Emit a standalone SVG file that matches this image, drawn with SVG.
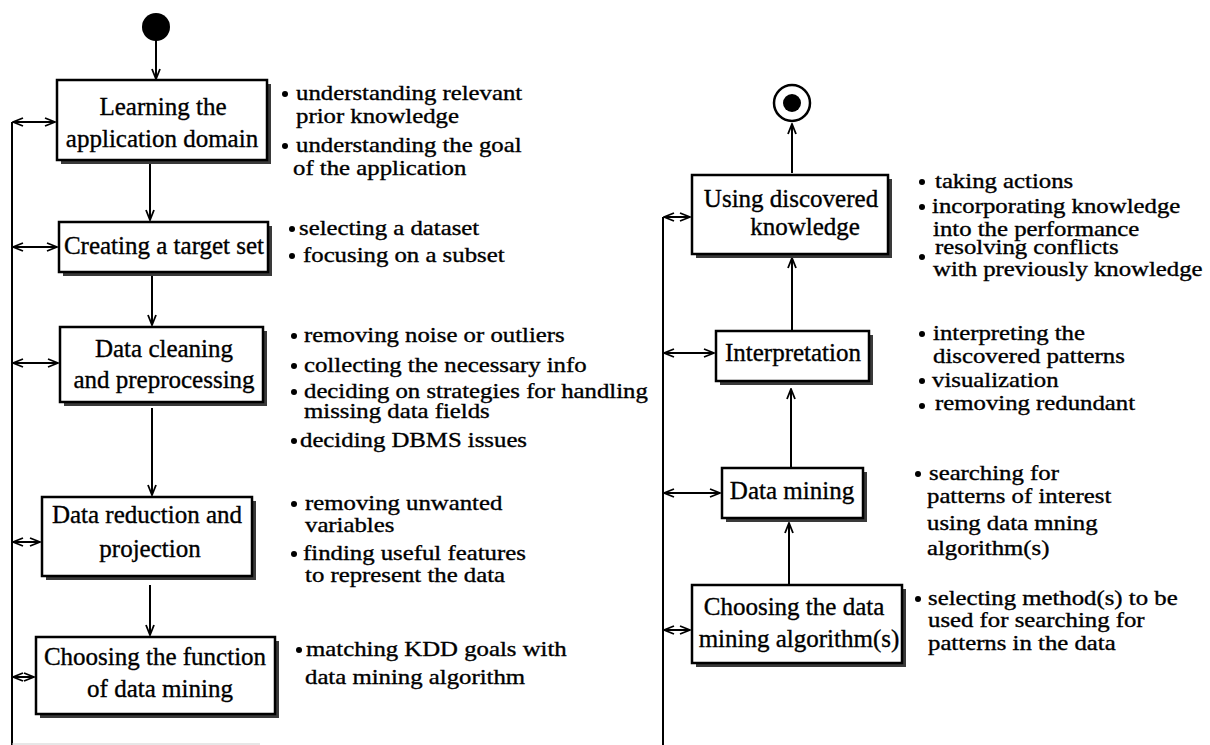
<svg xmlns="http://www.w3.org/2000/svg" width="1210" height="745" viewBox="0 0 1210 745">
<defs>
<style>
.box{fill:#fff;stroke:#000;stroke-width:2.5}
.sh{fill:#3a3a3a}
.t{font-family:'Liberation Serif','Times New Roman',serif;font-size:25px;fill:#000;stroke:#000;stroke-width:0.35}
.n{font-size:21px}
.c{text-anchor:middle}
.ln{stroke:#000;stroke-width:2;fill:none}
.b{fill:#000}
</style>
<marker id="ah" viewBox="0 0 12 10" refX="11" refY="5" markerWidth="12" markerHeight="10" markerUnits="userSpaceOnUse" orient="auto-start-reverse">
<path d="M1,1 L11,5 L1,9" fill="none" stroke="#000" stroke-width="1.8"/>
</marker>
</defs>
<rect width="1210" height="745" fill="#fff"/>

<g id="connectors">
<line class="ln" x1="156" y1="40" x2="156" y2="79" marker-end="url(#ah)"/>
<line class="ln" x1="150" y1="162" x2="150" y2="220" marker-end="url(#ah)"/>
<line class="ln" x1="152" y1="274" x2="152" y2="325" marker-end="url(#ah)"/>
<line class="ln" x1="152" y1="408" x2="152" y2="495" marker-end="url(#ah)"/>
<line class="ln" x1="150" y1="585" x2="150" y2="635" marker-end="url(#ah)"/>
<line class="ln" x1="12" y1="122" x2="12" y2="745"/>
<line class="ln" x1="13" y1="122" x2="55" y2="122" marker-start="url(#ah)" marker-end="url(#ah)"/>
<line class="ln" x1="13" y1="247" x2="57" y2="247" marker-start="url(#ah)" marker-end="url(#ah)"/>
<line class="ln" x1="13" y1="363" x2="58" y2="363" marker-start="url(#ah)" marker-end="url(#ah)"/>
<line class="ln" x1="13" y1="542" x2="40" y2="542" marker-start="url(#ah)" marker-end="url(#ah)"/>
<line class="ln" x1="13" y1="677" x2="34" y2="677" marker-start="url(#ah)" marker-end="url(#ah)"/>
<line x1="12" y1="744" x2="260" y2="744" stroke="#cfcfcf" stroke-width="1"/>

<line class="ln" x1="792" y1="173" x2="792" y2="124" marker-end="url(#ah)"/>
<line class="ln" x1="792" y1="330" x2="792" y2="258" marker-end="url(#ah)"/>
<line class="ln" x1="791" y1="468" x2="791" y2="389" marker-end="url(#ah)"/>
<line class="ln" x1="789" y1="585" x2="789" y2="523" marker-end="url(#ah)"/>
<line class="ln" x1="663" y1="217" x2="663" y2="745"/>
<line class="ln" x1="664" y1="217" x2="690" y2="217" marker-start="url(#ah)" marker-end="url(#ah)"/>
<line class="ln" x1="664" y1="353" x2="714" y2="353" marker-start="url(#ah)" marker-end="url(#ah)"/>
<line class="ln" x1="664" y1="493" x2="720" y2="493" marker-start="url(#ah)" marker-end="url(#ah)"/>
<line class="ln" x1="664" y1="630" x2="690" y2="630" marker-start="url(#ah)" marker-end="url(#ah)"/>
</g>

<g id="start"><circle cx="156" cy="27" r="14" fill="#000"/></g>
<g id="end"><circle cx="792" cy="103" r="18" fill="#fff" stroke="#000" stroke-width="2.5"/><circle cx="792" cy="103" r="9" fill="#000"/></g>

<g id="n1">
<rect class="sh" x="61" y="84" width="210" height="80"/>
<rect class="box" x="57" y="80" width="210" height="80"/>
<text class="t c" x="163" y="115">Learning the</text>
<text class="t c" x="162" y="147">application domain</text>
</g>
<g id="n2">
<rect class="sh" x="63" y="226" width="209" height="50"/>
<rect class="box" x="59" y="222" width="209" height="50"/>
<text class="t c" x="164" y="254">Creating a target set</text>
</g>
<g id="n3">
<rect class="sh" x="64" y="331" width="203" height="75"/>
<rect class="box" x="60" y="327" width="203" height="75"/>
<text class="t c" x="164" y="357">Data cleaning</text>
<text class="t c" x="164" y="388">and preprocessing</text>
</g>
<g id="n4">
<rect class="sh" x="46" y="501" width="210" height="79"/>
<rect class="box" x="42" y="497" width="210" height="79"/>
<text class="t c" x="147" y="523">Data reduction and</text>
<text class="t c" x="150" y="557">projection</text>
</g>
<g id="n5">
<rect class="sh" x="40" y="641" width="239" height="77"/>
<rect class="box" x="36" y="637" width="239" height="77"/>
<text class="t c" x="155" y="665">Choosing the function</text>
<text class="t c" x="160" y="697">of data mining</text>
</g>

<g id="n6">
<rect class="sh" x="696" y="179" width="196" height="79"/>
<rect class="box" x="692" y="175" width="196" height="79"/>
<text class="t c" x="791" y="207">Using discovered</text>
<text class="t c" x="805" y="235">knowledge</text>
</g>
<g id="n7">
<rect class="sh" x="720" y="335" width="153" height="50"/>
<rect class="box" x="716" y="331" width="153" height="50"/>
<text class="t c" x="793" y="361">Interpretation</text>
</g>
<g id="n8">
<rect class="sh" x="726" y="472" width="141" height="50"/>
<rect class="box" x="722" y="468" width="141" height="50"/>
<text class="t c" x="792" y="499">Data mining</text>
</g>
<g id="n9">
<rect class="sh" x="696" y="589" width="210" height="78"/>
<rect class="box" x="692" y="585" width="210" height="78"/>
<text class="t c" x="794" y="615">Choosing the data</text>
<text class="t c" x="799" y="647">mining algorithm(s)</text>
</g>

<g id="notes1">
<circle class="b" cx="285" cy="94" r="3"/>
<text class="t n" transform="matrix(1.18 0 0 1 296 100)">understanding relevant</text>
<text class="t n" transform="matrix(1.18 0 0 1 296 123)">prior knowledge</text>
<circle class="b" cx="285" cy="146" r="3"/>
<text class="t n" transform="matrix(1.18 0 0 1 296 152)">understanding the goal</text>
<text class="t n" transform="matrix(1.18 0 0 1 293 175)">of the application</text>
</g>
<g id="notes2">
<circle class="b" cx="292" cy="229" r="3"/>
<text class="t n" transform="matrix(1.18 0 0 1 299 235)">selecting a dataset</text>
<circle class="b" cx="292" cy="256" r="3"/>
<text class="t n" transform="matrix(1.18 0 0 1 303 262)">focusing on a subset</text>
</g>
<g id="notes3">
<circle class="b" cx="294" cy="336" r="3"/>
<text class="t n" transform="matrix(1.18 0 0 1 304 342)">removing noise or outliers</text>
<circle class="b" cx="294" cy="366" r="3"/>
<text class="t n" transform="matrix(1.18 0 0 1 304 372)">collecting the necessary info</text>
<circle class="b" cx="294" cy="392" r="3"/>
<text class="t n" transform="matrix(1.18 0 0 1 304 398)">deciding on strategies for handling</text>
<text class="t n" transform="matrix(1.18 0 0 1 304 418)">missing data fields</text>
<circle class="b" cx="294" cy="441" r="3"/>
<text class="t n" transform="matrix(1.18 0 0 1 300 447)">deciding DBMS issues</text>
</g>
<g id="notes4">
<circle class="b" cx="294" cy="504" r="3"/>
<text class="t n" transform="matrix(1.18 0 0 1 305 510)">removing unwanted</text>
<text class="t n" transform="matrix(1.18 0 0 1 305 532)">variables</text>
<circle class="b" cx="294" cy="554" r="3"/>
<text class="t n" transform="matrix(1.18 0 0 1 303 560)">finding useful features</text>
<text class="t n" transform="matrix(1.18 0 0 1 305 582)">to represent the data</text>
</g>
<g id="notes5">
<circle class="b" cx="299" cy="650" r="3"/>
<text class="t n" transform="matrix(1.18 0 0 1 306 656)">matching KDD goals with</text>
<text class="t n" transform="matrix(1.18 0 0 1 305 684)">data mining algorithm</text>
</g>
<g id="notes6">
<circle class="b" cx="922" cy="182" r="3"/>
<text class="t n" transform="matrix(1.18 0 0 1 935 188)">taking actions</text>
<circle class="b" cx="922" cy="207" r="3"/>
<text class="t n" transform="matrix(1.18 0 0 1 932 213)">incorporating knowledge</text>
<text class="t n" transform="matrix(1.18 0 0 1 933 236)">into the performance</text>
<circle class="b" cx="922" cy="257" r="3"/>
<text class="t n" transform="matrix(1.18 0 0 1 935 254)">resolving conflicts</text>
<text class="t n" transform="matrix(1.18 0 0 1 933 276)">with previously knowledge</text>
</g>
<g id="notes7">
<circle class="b" cx="922" cy="334" r="3"/>
<text class="t n" transform="matrix(1.18 0 0 1 933 340)">interpreting the</text>
<text class="t n" transform="matrix(1.18 0 0 1 933 363)">discovered patterns</text>
<circle class="b" cx="922" cy="381" r="3"/>
<text class="t n" transform="matrix(1.18 0 0 1 932 387)">visualization</text>
<circle class="b" cx="922" cy="406" r="3"/>
<text class="t n" transform="matrix(1.18 0 0 1 935 410)">removing redundant</text>
</g>
<g id="notes8">
<circle class="b" cx="918" cy="474" r="3"/>
<text class="t n" transform="matrix(1.18 0 0 1 929 480)">searching for</text>
<text class="t n" transform="matrix(1.18 0 0 1 927 503)">patterns of interest</text>
<text class="t n" transform="matrix(1.18 0 0 1 927 530)">using data mning</text>
<text class="t n" transform="matrix(1.18 0 0 1 927 555)">algorithm(s)</text>
</g>
<g id="notes9">
<circle class="b" cx="918" cy="599" r="3"/>
<text class="t n" transform="matrix(1.18 0 0 1 928 605)">selecting method(s) to be</text>
<text class="t n" transform="matrix(1.18 0 0 1 928 627)">used for searching for</text>
<text class="t n" transform="matrix(1.18 0 0 1 928 650)">patterns in the data</text>
</g>
</svg>
